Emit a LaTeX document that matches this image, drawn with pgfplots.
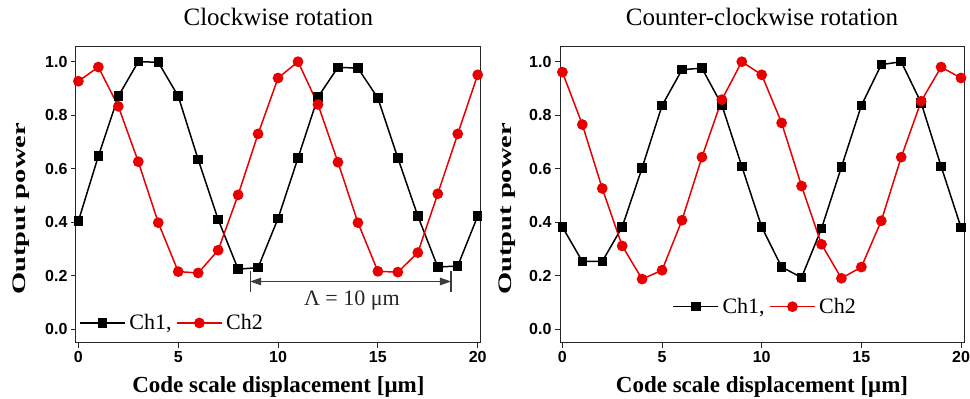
\documentclass[border=0pt]{standalone}
\usepackage{fontspec}
\setmainfont{Liberation Serif}
\setsansfont{Liberation Sans}
\usepackage{graphicx}
\usepackage{pgfplots}
\pgfplotsset{compat=1.18}
\usepackage{pgfplotstable}
\usetikzlibrary{arrows.meta}
\definecolor{chred}{RGB}{232,0,0}
\definecolor{annot}{RGB}{60,60,60}

\pgfplotstableread{
x  a     b
0  0.404 0.927
1  0.647 0.980
2  0.871 0.833
3  1.000 0.626
4  0.998 0.398
5  0.871 0.215
6  0.634 0.210
7  0.410 0.295
8  0.224 0.502
9  0.230 0.730
10 0.414 0.939
11 0.640 1.000
12 0.868 0.840
13 0.979 0.624
14 0.976 0.398
15 0.864 0.216
16 0.640 0.213
17 0.423 0.286
18 0.232 0.506
19 0.236 0.730
20 0.423 0.951
}\cw

\pgfplotstableread{
x  a     b
0  0.382 0.961
1  0.253 0.765
2  0.253 0.526
3  0.382 0.311
4  0.603 0.187
5  0.836 0.220
6  0.970 0.407
7  0.976 0.643
8  0.838 0.858
9  0.609 1.000
10 0.382 0.951
11 0.232 0.771
12 0.193 0.535
13 0.376 0.317
14 0.606 0.190
15 0.836 0.232
16 0.989 0.405
17 1.000 0.643
18 0.846 0.852
19 0.609 0.980
20 0.380 0.939
}\ccw

\pgfplotsset{
  myax/.style={
    scale only axis,
    anchor=south west,
    height=296pt,
    xmin=-0.12, xmax=20.15,
    ymin=-0.052, ymax=1.055,
    xtick={0,5,10,15,20},
    ytick={0,0.2,0.4,0.6,0.8,1.0},
    tick pos=left,
    tick align=outside,
    major tick length=5pt,
    minor tick num=0,
    axis line style={line width=1pt, black!85},
    tick style={line width=1pt, black!85},
    /pgf/number format/assume math mode=true,
    yticklabel style={/pgf/number format/.cd, fixed, fixed zerofill, precision=1},
    ticklabel style={font=\sffamily\bfseries\fontsize{16}{16}\selectfont},
    title style={font=\fontsize{25}{28}\selectfont, at={(axis description cs:0.5,1)}, anchor=base, yshift=15pt},
    xlabel={\bfseries Code scale displacement [μm]},
    xlabel style={font=\fontsize{23}{26}\selectfont, at={(axis description cs:0.5,0)}, anchor=base, yshift=-50pt},
    ylabel={\scalebox{1}[0.67]{\bfseries Output power}},
    ylabel style={font=\fontsize{28.5}{30}\selectfont, anchor=center},
    legend columns=-1,
    legend style={draw=none, fill=none, font=\fontsize{22}{24}\selectfont, inner sep=0pt,
      /tikz/every even column/.append style={column sep=1pt},
      nodes={inner sep=3.5pt}},
    legend image code/.code={
      \draw[mark repeat=2,mark phase=2,##1] plot coordinates {(0pt,0pt) (22.5pt,0pt) (45pt,0pt)};
    },
    ch1/.style={black, line width=1.5pt, mark=square*, mark size=4pt, mark options={solid, fill=black}},
    ch2/.style={chred, line width=1.5pt, mark=*, mark size=4.6pt, mark options={solid, fill=chred}},
  }
}

\begin{document}
\begin{tikzpicture}
\useasboundingbox (0pt,0pt) rectangle (970pt,399pt);
\begin{axis}[myax, at={(76pt,56pt)}, width=404.7pt,
  title={Clockwise rotation},
  ylabel style={at={(axis description cs:-0.1347,0.453)}},
  legend style={at={(axis description cs:0.008,0.0676)}, anchor=west}]
\addplot[ch1] table[x=x,y=a] {\cw};
\addlegendentry{Ch1,}
\addplot[ch2] table[x=x,y=b] {\cw};
\addlegendentry{Ch2}
\draw[annot, line width=1.1pt] (axis cs:8.6,0.216) -- (axis cs:8.6,0.138);
\draw[annot, line width=1.1pt] (axis cs:18.66,0.216) -- (axis cs:18.66,0.138);
\draw[annot, line width=1.1pt, {Triangle[length=11pt,width=7.5pt]}-{Triangle[length=11pt,width=7.5pt]}]
  (axis cs:8.6,0.178) -- (axis cs:18.66,0.178);
\node[font=\fontsize{22}{24}\selectfont, text=black!85] at (axis cs:13.7,0.106) {Λ = 10 μm};
\end{axis}
\begin{axis}[myax, at={(560pt,56pt)}, width=404pt,
  title={Counter-clockwise rotation},
  ylabel style={at={(axis description cs:-0.13,0.453)}},
  legend style={at={(axis description cs:0.278,0.1226)}, anchor=west}]
\addplot[ch1] table[x=x,y=a] {\ccw};
\addlegendentry{Ch1,}
\addplot[ch2] table[x=x,y=b] {\ccw};
\addlegendentry{Ch2}
\end{axis}
\end{tikzpicture}
\end{document}
